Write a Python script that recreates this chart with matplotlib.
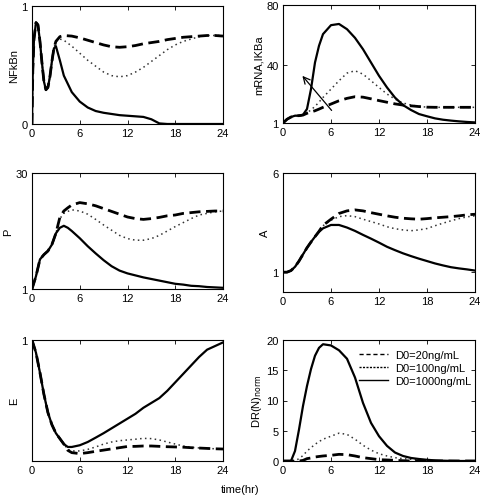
import numpy as np
import matplotlib.pyplot as plt
from matplotlib.lines import Line2D

plt.rcParams['font.family'] = ['Liberation Sans', 'DejaVu Sans']
plt.rcParams['font.size'] = 8

# time grids (hr)
t_nf = [0, 0.1, 0.25, 0.5, 0.75, 1, 1.25, 1.5, 1.75, 2, 2.25, 2.5, 2.75, 3, 3.5,
        4, 5, 6, 7, 8, 9, 10, 11, 12, 13, 14, 15, 16, 17, 18, 19, 20, 21, 22, 23, 24]
t = [0, 0.5, 1, 1.5, 2, 2.5, 3, 3.5, 4, 4.5, 5,
     6, 7, 8, 9, 10, 11, 12, 13, 14, 15, 16, 17, 18, 19, 20, 21, 22, 23, 24]

# NFkBn
nf_20 = [0, 0.45, 0.72, 0.86, 0.84, 0.70, 0.52, 0.36, 0.29, 0.31, 0.40, 0.53, 0.64, 0.70, 0.74,
         0.75, 0.745, 0.73, 0.71, 0.69, 0.67, 0.655, 0.65, 0.655, 0.665, 0.68, 0.69, 0.70,
         0.715, 0.725, 0.735, 0.74, 0.745, 0.75, 0.75, 0.745]
nf_100 = [0, 0.45, 0.72, 0.86, 0.84, 0.70, 0.52, 0.36, 0.29, 0.31, 0.40, 0.53, 0.64, 0.70, 0.72,
          0.71, 0.66, 0.60, 0.54, 0.49, 0.44, 0.41, 0.40, 0.41, 0.44, 0.48, 0.53, 0.58,
          0.63, 0.67, 0.70, 0.72, 0.74, 0.75, 0.75, 0.75]
nf_1000 = [0, 0.45, 0.72, 0.86, 0.84, 0.70, 0.52, 0.36, 0.29, 0.31, 0.40, 0.53, 0.64, 0.66, 0.54,
           0.41, 0.27, 0.19, 0.14, 0.11, 0.095, 0.085, 0.075, 0.07, 0.065, 0.06, 0.04, 0.005,
           0, 0, 0, 0, 0, 0, 0, 0]

# mRNA IkBa
mr_20 = [1, 3.5, 5, 5.9, 5.9, 6.3, 7.5, 8.4, 9.2, 10.3, 11.5,
         13.7, 15.9, 17.5, 18.6, 18.3, 17.2, 16, 14.9, 13.8, 13, 12.5, 12, 11.6, 11.5,
         11.5, 11.5, 11.5, 11.5, 11.5]
mr_100 = [1, 3.5, 5, 5.9, 5.9, 6.3, 7.7, 9.8, 12.1, 15, 18.1,
          23.7, 29.3, 34.4, 36, 33.7, 29.3, 24.8, 20.4, 17, 14.4, 13, 12.1, 11.6, 11.5,
          11.5, 11.5, 11.5, 11.5, 11.5]
mr_1000 = [1, 3.5, 5, 5.9, 5.9, 6.5, 10.4, 23.7, 41.5, 52.7, 60.5,
           66.5, 67.3, 63.8, 58, 50.4, 41.5, 32.6, 24.8, 18, 13, 9.7, 7, 5.5, 4.1,
           3.2, 2.6, 2.1, 1.7, 1.4]

# P
p_20 = [1, 4.2, 8.4, 9.6, 10.5, 12.1, 14.9, 18.9, 20.5, 21.3, 22,
        22.6, 22.3, 21.8, 21.1, 20.4, 19.7, 19, 18.6, 18.4, 18.6, 18.9, 19.3, 19.5, 19.9,
        20.1, 20.3, 20.4, 20.5, 20.5]
p_100 = [1, 4.2, 8.4, 9.6, 10.5, 12.1, 14.9, 18.6, 19.9, 20.4, 20.8,
         20.5, 19.7, 18.4, 17, 15.7, 14.4, 13.6, 13.2, 13.2, 13.6, 14.4, 15.5, 16.6, 17.6,
         18.6, 19.5, 19.9, 20.3, 20.5]
p_1000 = [1, 4.2, 8.4, 9.6, 10.5, 12.1, 14.9, 16.3, 16.8, 16.3, 15.5,
          13.7, 11.7, 9.9, 8.2, 6.7, 5.6, 4.9, 4.4, 3.9, 3.5, 3.1, 2.7, 2.3, 2.1,
          1.8, 1.7, 1.5, 1.4, 1.3]

# A
a_20 = [1, 1, 1.08, 1.27, 1.56, 1.9, 2.23, 2.52, 2.79, 3.06, 3.36,
        3.67, 3.96, 4.09, 4.14, 4.09, 4.0, 3.92, 3.84, 3.77, 3.72, 3.69, 3.67, 3.7, 3.74,
        3.77, 3.8, 3.84, 3.89, 3.92]
a_100 = [1, 1, 1.08, 1.27, 1.56, 1.9, 2.23, 2.52, 2.79, 3.06, 3.34,
         3.62, 3.8, 3.85, 3.8, 3.67, 3.55, 3.43, 3.29, 3.19, 3.13, 3.09, 3.13, 3.2, 3.34,
         3.47, 3.59, 3.7, 3.79, 3.84]
a_1000 = [1, 1, 1.08, 1.27, 1.56, 1.9, 2.23, 2.52, 2.79, 3.03, 3.21,
          3.38, 3.38, 3.25, 3.08, 2.88, 2.69, 2.49, 2.28, 2.11, 1.95, 1.81, 1.68, 1.56, 1.44,
          1.34, 1.25, 1.19, 1.14, 1.08]

# E
e_20 = [1, 0.895, 0.73, 0.55, 0.40, 0.30, 0.23, 0.185, 0.14, 0.088, 0.069,
        0.061, 0.069, 0.08, 0.09, 0.10, 0.11, 0.12, 0.121, 0.124, 0.124, 0.121, 0.118, 0.116,
        0.114, 0.11, 0.107, 0.104, 0.101, 0.099]
e_100 = [1, 0.895, 0.73, 0.55, 0.40, 0.30, 0.23, 0.185, 0.14, 0.096, 0.083,
         0.083, 0.096, 0.116, 0.14, 0.157, 0.168, 0.174, 0.18, 0.187, 0.185, 0.174, 0.157, 0.14,
         0.124, 0.113, 0.108, 0.104, 0.101, 0.099]
e_1000 = [1, 0.895, 0.73, 0.55, 0.40, 0.30, 0.23, 0.185, 0.14, 0.116, 0.116,
          0.13, 0.157, 0.193, 0.23, 0.27, 0.31, 0.35, 0.39, 0.44, 0.48, 0.52, 0.58, 0.65,
          0.72, 0.79, 0.86, 0.92, 0.95, 0.98]

# DR(N) norm
dr_20 = [0, 0, 0, 0, 0, 0.1, 0.39, 0.5, 0.66, 0.75, 0.83,
         0.94, 1.1, 1.05, 0.83, 0.55, 0.39, 0.22, 0.17, 0.11, 0.05, 0, 0, 0, 0, 0, 0, 0, 0, 0]
dr_100 = [0, 0, 0, 0, 0.4, 0.9, 1.65, 2.2, 2.75, 3.2, 3.6,
          4.1, 4.6, 4.4, 3.6, 2.6, 1.8, 1.2, 0.83, 0.55, 0.39, 0.28, 0.2, 0.1, 0.05, 0, 0, 0, 0, 0]
dr_1000 = [0, 0, 0, 1.65, 5.2, 9.1, 12.4, 15.2, 17.4, 18.7, 19.3,
           19.1, 18.3, 16.9, 13.8, 9.6, 6.3, 4.1, 2.5, 1.4, 0.83, 0.5, 0.33, 0.2, 0.1,
           0.05, 0.02, 0, 0, 0]

labels = ['D0=20ng/mL', 'D0=100ng/mL', 'D0=1000ng/mL']

dash = dict(color='k', lw=2.0, ls=(0, (4, 2)))
dot = dict(color='#333333', lw=1.1, ls=(0, (1, 2.2)))
sol = dict(color='k', lw=1.6, ls='-')

fig = plt.figure(figsize=(4.81, 5.02), dpi=100)

W, H = 481, 502
def add_ax(x0, y0, x1, y1):
    return fig.add_axes([x0 / W, 1 - y1 / H, (x1 - x0) / W, (y1 - y0) / H])

panels = [
    (add_ax(32, 7, 223, 125), t_nf, nf_20, nf_100, nf_1000, 'NFkBn', (0, 1), [0, 1]),
    (add_ax(283, 6, 475, 124), t, mr_20, mr_100, mr_1000, 'mRNA,IKBa', (1, 80), [1, 40, 80]),
    (add_ax(32, 174, 223, 290), t, p_20, p_100, p_1000, 'P', (1, 30), [1, 30]),
    (add_ax(283, 174, 475, 293), t, a_20, a_100, a_1000, 'A', (0, 6), [1, 6]),
    (add_ax(32, 341, 223, 462), t, e_20, e_100, e_1000, 'E', (0, 1), [1]),
    (add_ax(283, 341, 475, 462), t, dr_20, dr_100, dr_1000, r'DR(N)$_{\rm norm}$', (0, 20), [0, 5, 10, 15, 20]),
]

for ax, tt, y20, y100, y1000, lab, ylim, yt in panels:
    ax.plot(tt, y100, **dot)
    ax.plot(tt, y20, **dash)
    ax.plot(tt, y1000, **sol)
    ax.set_xlim(0, 24)
    ax.set_ylim(*ylim)
    ax.set_xticks([0, 6, 12, 18, 24])
    ax.set_yticks(yt)
    ax.set_ylabel(lab, labelpad=2)
    ax.tick_params(direction='in', length=3, width=0.6, top=True, right=True, pad=3)
    for s in ax.spines.values():
        s.set_linewidth(0.8)

# arrow on mRNA panel
panels[1][0].annotate('', xy=(2.2, 34), xytext=(6.3, 8),
                      arrowprops=dict(arrowstyle='->', lw=0.9, color='k', mutation_scale=12))

handles = [Line2D([], [], color='k', lw=1.0, ls=(0, (3, 2))),
           Line2D([], [], color='k', lw=1.0, ls=(0, (1.5, 1))),
           Line2D([], [], color='k', lw=1.0, ls='-')]
panels[5][0].legend(handles, labels, loc='upper right', frameon=False, fontsize=8,
                    handlelength=2.6, handletextpad=0.6, labelspacing=0.25,
                    borderaxespad=0.3, bbox_to_anchor=(1.02, 0.98))

fig.text(0.5, 0.024, 'time(hr)', ha='center', va='center', fontsize=8)

fig.savefig('out.png', dpi=100)
